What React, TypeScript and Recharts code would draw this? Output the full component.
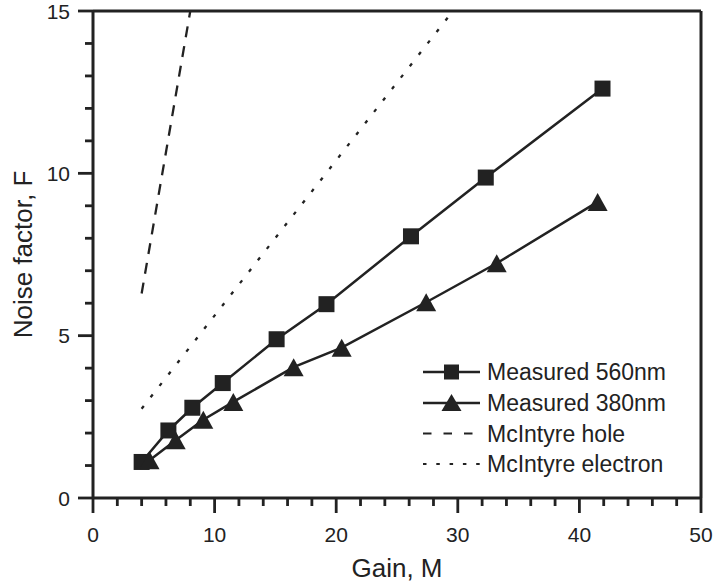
import React from 'react';
import { LineChart, Line, XAxis, YAxis, ReferenceLine, Legend } from 'recharts';

const xTicks = [0, 2, 4, 6, 8, 10, 12, 14, 16, 18, 20, 22, 24, 26, 28, 30, 32, 34, 36, 38, 40, 42, 44, 46, 48, 50];
const xMajor = [0, 10, 20, 30, 40, 50];
const yTicks = [0, 1, 2, 3, 4, 5, 6, 7, 8, 9, 10, 11, 12, 13, 14, 15];
const yMajor = [0, 5, 10, 15];

const gain560 = [4.0, 6.2, 8.17, 10.67, 15.1, 19.2, 26.15, 32.3, 41.9];
const noise560 = [1.11, 2.08, 2.78, 3.54, 4.89, 5.97, 8.06, 9.87, 12.61];
const gain380 = [4.65, 6.8, 9.07, 11.54, 16.5, 20.45, 27.4, 33.2, 41.5];
const noise380 = [1.16, 1.78, 2.41, 2.96, 4.03, 4.63, 6.03, 7.23, 9.12];
const gainHole = [4, 6, 8];
const noiseHole = [6.3, 10.65, 15];
const gainElectron = [4, 10.9, 20, 29.6];
const noiseElectron = [2.75, 6.05, 10.4, 15];

const legendNames = ['Measured 560nm', 'Measured 380nm', 'McIntyre hole', 'McIntyre electron'];

const zip = (xs: number[], ys: number[]) => xs.map((x, i) => ({ x, y: ys[i] }));
const d560 = zip(gain560, noise560);
const d380 = zip(gain380, noise380);
const dHole = zip(gainHole, noiseHole);
const dElec = zip(gainElectron, noiseElectron);

const INK = '#222';
const FONT = '"Liberation Sans", Arial, Helvetica, sans-serif';

const XTick = (props: any) => {
  const { x, y, payload } = props;
  const major = xMajor.includes(payload.value);
  return (
    <g>
      <line x1={x} y1={y} x2={x} y2={y + (major ? 15 : 8)} stroke={INK} strokeWidth={2.8} />
      {major && (
        <text x={x} y={y + 44} textAnchor="middle" fontSize={21} fill={INK} fontFamily={FONT}>
          {payload.value}
        </text>
      )}
    </g>
  );
};

const YTick = (props: any) => {
  const { x, y, payload } = props;
  const major = yMajor.includes(payload.value);
  return (
    <g>
      <line x1={x - (major ? 15 : 8)} y1={y} x2={x} y2={y} stroke={INK} strokeWidth={2.8} />
      {major && (
        <text x={x - 23} y={y + 7.5} textAnchor="end" fontSize={21} fill={INK} fontFamily={FONT}>
          {payload.value}
        </text>
      )}
    </g>
  );
};

const Square = (props: any) => {
  const { cx, cy } = props;
  if (cx == null || cy == null) return null;
  return <rect x={cx - 8} y={cy - 8} width={16} height={16} fill={INK} />;
};

const Tri = (props: any) => {
  const { cx, cy } = props;
  if (cx == null || cy == null) return null;
  return <path d={`M${cx},${cy - 9} L${cx + 10},${cy + 9} L${cx - 10},${cy + 9} Z`} fill={INK} />;
};

const LegendContent = () => {
  const rowY = [16, 47, 77.5, 108];
  return (
    <svg width={285} height={125} style={{ display: 'block' }}>
      <line x1={0} y1={rowY[0]} x2={57} y2={rowY[0]} stroke={INK} strokeWidth={2.5} />
      <rect x={28.5 - 7.5} y={rowY[0] - 7.5} width={15} height={15} fill={INK} />
      <line x1={0} y1={rowY[1]} x2={57} y2={rowY[1]} stroke={INK} strokeWidth={2.5} />
      <path d={`M28.5,${rowY[1] - 9} L38.5,${rowY[1] + 8} L18.5,${rowY[1] + 8} Z`} fill={INK} />
      <line x1={0} y1={rowY[2]} x2={57} y2={rowY[2]} stroke={INK} strokeWidth={2.2} strokeDasharray="8.5 12" />
      <line x1={0} y1={rowY[3]} x2={57} y2={rowY[3]} stroke={INK} strokeWidth={2.2} strokeDasharray="3.5 9.8" />
      {legendNames.map((n, i) => (
        <text key={n} x={64} y={rowY[i] + 8.3} fontSize={23} fill={INK} fontFamily={FONT}>
          {n}
        </text>
      ))}
    </svg>
  );
};

export default function App() {
  return (
    <div style={{ position: 'absolute', left: 0, top: 0, background: '#fff' }}>
      <LineChart width={716} height={584} margin={{ top: 11, right: 15, bottom: 0, left: 0 }}>
        <XAxis
          type="number"
          dataKey="x"
          domain={[0, 50]}
          ticks={xTicks}
          interval={0}
          tickSize={0}
          tickMargin={0}
          tickLine={false}
          tick={<XTick />}
          height={86}
          axisLine={{ stroke: INK, strokeWidth: 3 }}
          allowDataOverflow
          label={{
            content: (p: any) => {
              const vb = p.viewBox;
              return (
                <text x={vb.x + vb.width / 2} y={vb.y + 79} textAnchor="middle" fontSize={26} fill={INK} fontFamily={FONT}>
                  Gain, M
                </text>
              );
            },
          }}
        />
        <YAxis
          type="number"
          dataKey="y"
          domain={[0, 15]}
          ticks={yTicks}
          interval={0}
          tickSize={0}
          tickMargin={0}
          tickLine={false}
          tick={<YTick />}
          width={93}
          axisLine={{ stroke: INK, strokeWidth: 3 }}
          allowDataOverflow
          label={{
            content: (p: any) => {
              const vb = p.viewBox;
              const cx = 31.5;
              const cy = vb.y + vb.height / 2;
              return (
                <text
                  x={cx}
                  y={cy}
                  transform={`rotate(-90, ${cx}, ${cy})`}
                  textAnchor="middle"
                  fontSize={26}
                  fill={INK}
                  fontFamily={FONT}
                >
                  Noise factor, F
                </text>
              );
            },
          }}
        />
        <ReferenceLine y={15} stroke={INK} strokeWidth={3} />
        <ReferenceLine x={50} stroke={INK} strokeWidth={3} />
        <Line data={dHole} dataKey="y" stroke={INK} strokeWidth={2.3} strokeDasharray="11 9" dot={false} isAnimationActive={false} />
        <Line data={dElec} dataKey="y" stroke={INK} strokeWidth={2.3} strokeDasharray="3.5 11" dot={false} isAnimationActive={false} />
        <Line data={d560} dataKey="y" stroke={INK} strokeWidth={2.5} dot={<Square />} isAnimationActive={false} />
        <Line data={d380} dataKey="y" stroke={INK} strokeWidth={2.5} dot={<Tri />} isAnimationActive={false} />
        <Legend
          layout="vertical"
          align="center"
          verticalAlign="middle"
          content={<LegendContent />}
          wrapperStyle={{ position: 'absolute', left: 423, top: 356, width: 285, height: 125 }}
        />
      </LineChart>
    </div>
  );
}
